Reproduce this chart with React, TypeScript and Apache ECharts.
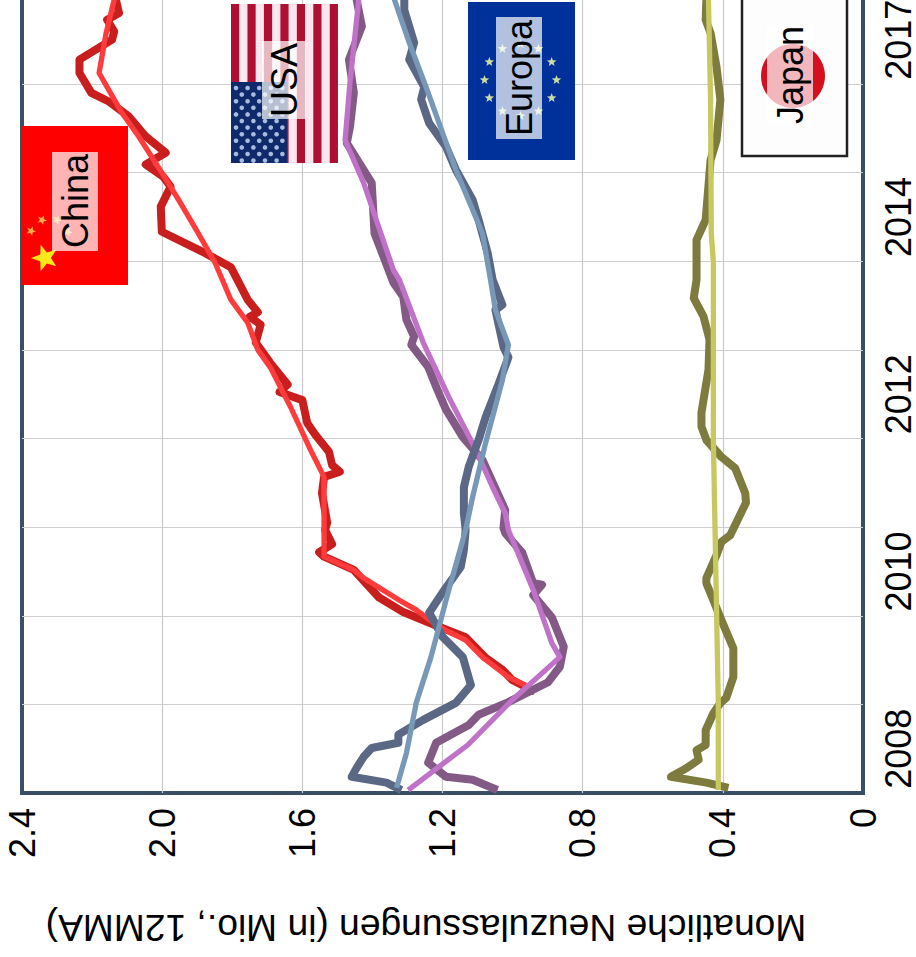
import React, { useEffect, useRef } from "react";
import * as echarts from "echarts";

const FONT = "'Liberation Sans', Arial, sans-serif";

const yearLabels = ["2008", "", "2010", "", "2012", "", "2014", "", "2017"];
const axisTitle = "Monatliche Neuzulassungen (in Mio., 12MMA)";

const chinaMonths = [13.7, 15.3, 16.7, 18.3, 21.1, 22.5, 24.5, 26.5, 30.2, 32, 32.6, 33.7, 35.6, 36.6, 40.6, 42.8, 43.5, 44.4, 46.2, 48.5, 50.1, 53.2, 54.3, 55.3, 58.2, 61, 63.4, 64.5, 65.1, 66.8, 71.2, 73.1, 76, 79.4, 82.1, 83.4, 85.1, 86.7, 88.9, 91.6, 93.6, 94.8, 97.5, 99.3, 102, 103.1, 104.7, 105.6, 107.4, 108];
const chinaSales = [0.936, 1.001, 1.029, 1.077, 1.134, 1.21, 1.312, 1.382, 1.453, 1.538, 1.552, 1.515, 1.535, 1.529, 1.544, 1.538, 1.493, 1.515, 1.524, 1.563, 1.586, 1.6, 1.665, 1.642, 1.691, 1.733, 1.719, 1.75, 1.727, 1.756, 1.804, 1.877, 2.001, 2.004, 1.976, 1.996, 2.047, 1.99, 2.047, 2.095, 2.151, 2.202, 2.236, 2.236, 2.143, 2.137, 2.157, 2.123, 2.132, 2.137];
const chinaTrendMonths = [14.4, 15.7, 18.4, 20.7, 22.5, 24.8, 26.1, 29.1, 30.2, 32, 35.6, 42.8, 46.5, 52.3, 57.6, 60, 63.7, 66.8, 71.8, 75.8, 80.3, 84, 88.9, 92.1, 97.5, 102.9, 107.4, 108];
const chinaTrend = [0.956, 1.012, 1.086, 1.134, 1.21, 1.275, 1.323, 1.425, 1.453, 1.538, 1.538, 1.538, 1.577, 1.634, 1.691, 1.727, 1.756, 1.804, 1.849, 1.897, 1.953, 2.001, 2.067, 2.115, 2.18, 2.16, 2.137, 2.137];

const usaMonths = [0.4, 1.8, 2.2, 4.1, 6.8, 9.2, 10.6, 12.3, 15, 17.1, 19.8, 23.8, 26.8, 28.2, 28.4, 32.5, 35.2, 35.9, 38.3, 45.1, 48.2, 51.9, 55, 57.7, 60.7, 61.8, 64.1, 67.2, 69.1, 75.8, 82.6, 88, 90.2, 94.8, 99.3, 103.8, 107.4, 108];
const usaSales = [1.043, 1.114, 1.19, 1.241, 1.218, 1.125, 1.097, 1.012, 0.899, 0.865, 0.854, 0.888, 0.941, 0.916, 0.941, 0.972, 1.021, 1.026, 1.021, 1.086, 1.142, 1.19, 1.218, 1.241, 1.289, 1.281, 1.303, 1.312, 1.34, 1.394, 1.402, 1.473, 1.464, 1.453, 1.467, 1.43, 1.445, 1.445];
const usaTrendMonths = [0.4, 6.5, 12.6, 18.4, 20.3, 27.5, 35.6, 37.9, 41.4, 46.5, 53.6, 61, 69.5, 70.8, 82.6, 88.4, 96.2, 107.4, 108];
const usaTrend = [1.298, 1.128, 1.001, 0.865, 0.888, 0.941, 1.012, 1.021, 1.057, 1.105, 1.182, 1.255, 1.323, 1.34, 1.425, 1.478, 1.464, 1.439, 1.437];

const europeMonths = [0.4, 1.4, 2.2, 3.4, 4.9, 6.1, 6.8, 7.9, 9.9, 12.2, 14.6, 18.4, 21.1, 24.4, 27.2, 30.6, 32.9, 35.6, 37.9, 41.4, 44.2, 47.8, 50.9, 55, 59, 60.4, 65.4, 66.1, 69.5, 73.1, 77.6, 80.3, 84.4, 87.5, 90.7, 93.9, 95.6, 99.3, 101.6, 106, 108];
const europeSales = [1.317, 1.36, 1.459, 1.445, 1.425, 1.402, 1.326, 1.326, 1.255, 1.162, 1.119, 1.142, 1.199, 1.238, 1.199, 1.148, 1.139, 1.134, 1.139, 1.139, 1.125, 1.097, 1.077, 1.043, 1.012, 1.026, 1.049, 1.029, 1.057, 1.071, 1.097, 1.114, 1.162, 1.19, 1.238, 1.261, 1.252, 1.295, 1.281, 1.309, 1.309];
const europeTrendMonths = [0.7, 5.4, 12.2, 18.4, 22.5, 27.5, 35.6, 40.1, 47.4, 55.9, 60.7, 65.4, 69.5, 75.8, 84.4, 95.6, 101.6, 107.4, 108];
const europeTrend = [1.331, 1.303, 1.275, 1.233, 1.21, 1.182, 1.134, 1.114, 1.077, 1.029, 1.012, 1.049, 1.063, 1.086, 1.162, 1.247, 1.295, 1.337, 1.34];

const japanMonths = [0.7, 1.4, 2.2, 3.4, 4.5, 5.8, 6.5, 8.5, 10.8, 12.2, 12.9, 15.7, 19.6, 23.4, 26.1, 28.4, 29.1, 32.2, 34, 34.9, 39.3, 40.6, 44, 45.5, 47.8, 49.6, 51.5, 55, 57.3, 61.4, 64.5, 67, 69.5, 74.9, 77.6, 85.7, 88.4, 93.9, 98.3, 102.9, 104.7, 107.4, 108];
const japanSales = [0.384, 0.447, 0.548, 0.503, 0.469, 0.475, 0.449, 0.449, 0.427, 0.407, 0.39, 0.37, 0.37, 0.404, 0.427, 0.447, 0.447, 0.418, 0.404, 0.379, 0.334, 0.336, 0.365, 0.404, 0.447, 0.461, 0.461, 0.449, 0.441, 0.438, 0.455, 0.483, 0.475, 0.475, 0.449, 0.435, 0.418, 0.407, 0.418, 0.435, 0.449, 0.447, 0.447];
const japanTrendMonths = [0.4, 12.2, 47.8, 71.8, 75.8, 93.9, 107.4, 108];
const japanTrend = [0.413, 0.413, 0.427, 0.427, 0.433, 0.435, 0.441, 0.441];

// The reference's plot frame runs past the top of the page: the chart's canvas is shifted up by this much.
const SHIFT = 6;

const zip = (months: number[], values: number[]) => values.map((v, i) => [v, months[i]]);

const line = (name: string, months: number[], values: number[], color: string, width: number) => ({
  name,
  type: "line",
  yAxisIndex: 0,
  xAxisIndex: 0,
  data: zip(months, values),
  showSymbol: false,
  symbol: "none",
  smooth: false,
  clip: false,
  lineStyle: { color, width, join: "round", cap: "butt" },
  emphasis: { disabled: true },
});

const star = (cx: number, cy: number, r: number, fill: string, rot = 0) => {
  const points: number[][] = [];
  for (let i = 0; i < 10; i++) {
    const a = rot - Math.PI / 2 + (i * Math.PI) / 5;
    const rr = i % 2 === 0 ? r : r * 0.42;
    points.push([cx + rr * Math.cos(a), cy + rr * Math.sin(a)]);
  }
  return { type: "polygon", z: 20, shape: { points }, style: { fill } };
};

const labelBox = (x: number, y: number, width: number, height: number) => ({
  type: "rect",
  z: 22,
  shape: { x, y, width, height },
  style: { fill: "rgba(255,255,255,0.7)" },
});

const flagText = (text: string, x: number, y: number) => ({
  type: "text",
  z: 24,
  x,
  y,
  rotation: Math.PI / 2,
  style: { text, font: `36px ${FONT}`, fill: "#000", align: "center", verticalAlign: "middle" },
});

const rect = (x: number, y: number, width: number, height: number, fill: string, extra: object = {}) => ({
  type: "rect",
  z: 20,
  shape: { x, y, width, height },
  style: { fill, ...extra },
});

function flags() {
  const out: any[] = [];
  // China
  out.push(rect(21, 126, 107, 159, "#FF0000"));
  out.push(star(45, 258, 14, "#FFE81A", -Math.PI / 2));
  [[31, 231], [42, 220], [57, 220], [68, 232]].forEach(([x, y]) => out.push(star(x, y, 5, "#FFB040", 0.4)));
  out.push(labelBox(52, 152, 46, 99));
  out.push(flagText("China", 75, 201));
  // USA
  out.push(rect(231, 4, 107, 159, "#FFE6EE"));
  for (let i = 0; i < 7; i++) out.push(rect(231 + (i * 107) / 6.5, 4, 8.2, 159, "#AE1033"));
  out.push(rect(231, 82, 56, 81, "#0F2A6A"));
  for (let i = 0; i < 9; i++) {
    for (let j = 0; j < 12; j++) {
      if ((i + j) % 2 === 0) {
        out.push({
          type: "circle",
          z: 21,
          shape: { cx: 236 + i * 5.8, cy: 88 + j * 6.6, r: 2.3 },
          style: { fill: "#A8BCDF" },
        });
      }
    }
  }
  out.push(labelBox(262, 41, 44, 78));
  out.push(flagText("USA", 284, 80));
  // Europe
  out.push(rect(468, 2, 107, 158, "#00309A"));
  for (let i = 0; i < 12; i++) {
    const a = (i * Math.PI) / 6;
    out.push(star(520.5 + 36 * Math.cos(a), 80 + 36 * Math.sin(a), 5, "#CBDCA5"));
  }
  out.push(labelBox(496, 17, 46, 122));
  out.push(flagText("Europa", 519, 78));
  // Japan
  out.push(rect(742, -4, 105, 160, "#FDFDFD", { stroke: "#222", lineWidth: 2.5 }));
  out.push({ type: "circle", z: 21, shape: { cx: 793, cy: 76, r: 32 }, style: { fill: "#D4101F" } });
  out.push(labelBox(767, 25, 46, 99));
  out.push(flagText("Japan", 790, 75));
  // Axis title
  out.push({
    type: "text",
    z: 24,
    x: 426,
    y: 928,
    rotation: Math.PI,
    style: { text: axisTitle, font: `37.2px ${FONT}`, fill: "#000", align: "center", verticalAlign: "middle" },
  });
  return [{ type: "group", x: 0, y: SHIFT, children: out }];
}

export default function App() {
  const ref = useRef<HTMLDivElement>(null);
  useEffect(() => {
    const chart = echarts.init(ref.current!, undefined, { renderer: "svg" });
    chart.setOption({
      animation: false,
      backgroundColor: "#fff",
      textStyle: { fontFamily: FONT },
      grid: {
        show: true,
        left: 22,
        right: 45,
        top: SHIFT - 4.6,
        bottom: 164,
        borderColor: "#3A4F66",
        borderWidth: 4,
        backgroundColor: "#fff",
      },
      xAxis: [
        {
          type: "value",
          inverse: true,
          min: 0,
          max: 2.4,
          interval: 0.4,
          axisLine: { show: false },
          axisTick: { show: false },
          splitLine: {
            show: true,
            showMinLine: false,
            showMaxLine: false,
            lineStyle: { color: "#CACACA", width: 1.2 },
          },
          axisLabel: {
            rotate: 90,
            margin: 15,
            fontSize: 36,
            color: "#000",
            fontFamily: FONT,
            formatter: (v: number) => (v === 0 ? "0" : v.toFixed(1)),
          },
        },
      ],
      yAxis: [
        {
          type: "value",
          min: 0,
          max: 108,
          interval: 12,
          axisLine: { show: false },
          axisTick: { show: false },
          axisLabel: { show: false },
          splitLine: {
            show: true,
            showMinLine: false,
            showMaxLine: false,
            lineStyle: { color: "#CFCFCF", width: 1.2 },
          },
        },
        {
          type: "category",
          position: "right",
          data: yearLabels,
          boundaryGap: true,
          axisLine: { show: false },
          axisTick: { show: false },
          splitLine: { show: false },
          axisLabel: {
            show: true,
            interval: 0,
            rotate: 90,
            margin: 21,
            fontSize: 36,
            lineHeight: 28,
            color: "#000",
            fontFamily: FONT,
          },
        },
      ],
      series: [
        line("China", chinaMonths, chinaSales, "#C81E1E", 8),
        line("China Trend", chinaTrendMonths, chinaTrend, "#FF3B3B", 5.3),
        line("USA", usaMonths, usaSales, "#835A85", 8),
        line("USA Trend", usaTrendMonths, usaTrend, "#C071C8", 5.3),
        line("Europa", europeMonths, europeSales, "#5A6885", 8),
        line("Europa Trend", europeTrendMonths, europeTrend, "#7898B8", 5.3),
        line("Japan", japanMonths, japanSales, "#7D7B3E", 8),
        line("Japan Trend", japanTrendMonths, japanTrend, "#C8C860", 5.3),
      ],
      graphic: flags(),
    });
    return () => chart.dispose();
  }, []);
  return (
    <div
      ref={ref}
      style={{ position: "absolute", left: 0, top: -SHIFT, width: 916, height: 957 + SHIFT }}
    />
  );
}
